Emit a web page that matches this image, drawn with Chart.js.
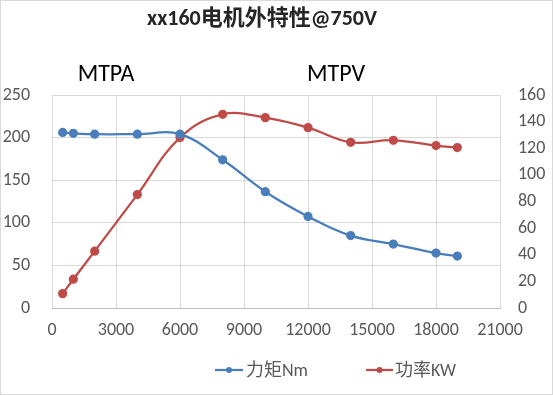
<!DOCTYPE html>
<html><head><meta charset="utf-8">
<script src="https://cdn.jsdelivr.net/npm/chart.js@4/dist/chart.umd.min.js"></script>
<style>html,body{margin:0;padding:0;background:#fff}#wrap{width:553px;height:395px;position:relative}</style>
</head><body><div id="wrap"><canvas id="c" width="553" height="395"></canvas></div>
<script>
const titleText = "xx160电机外特性@750V";
const regionLabels = ["MTPA", "MTPV"];
const seriesNames = ["力矩Nm", "功率KW"];
const speeds = [500, 1000, 2000, 4000, 6000, 8000, 10000, 12000, 14000, 16000, 18000, 19000];
const torque = [206, 205, 204, 204, 204, 174, 136.5, 107.5, 85, 75, 64.5, 61];
const power  = [10.8, 21.6, 42.7, 85.2, 128, 145.5, 143, 135.5, 124.5, 126, 122, 120.5];
const xTicks = [0, 3000, 6000, 9000, 12000, 15000, 18000, 21000];
const leftTicks = [0, 50, 100, 150, 200, 250];
const rightTicks = [0, 20, 40, 60, 80, 100, 120, 140, 160];

const BLUE = '#4a7ebb', RED = '#be4b48';
const FONT = 'Carlito, "Liberation Sans", "Noto Sans CJK SC", sans-serif';
const tickFont = {family: FONT, size: 18};

const deco = {
  id: 'deco',
  beforeDraw(chart) {
    const ctx = chart.ctx;
    ctx.save(); ctx.fillStyle = '#fff'; ctx.fillRect(0, 0, chart.width, chart.height); ctx.restore();
  },
  afterDraw(chart) {
    const ctx = chart.ctx;
    ctx.save();
    ctx.textBaseline = 'middle'; ctx.textAlign = 'center';
    ctx.fillStyle = '#262626';
    ctx.font = 'bold 22px ' + FONT;
    ctx.fillText(titleText, 262, 19);
    ctx.fillStyle = '#000';
    ctx.font = '24px ' + FONT;
    ctx.fillText(regionLabels[0], 106, 75);
    ctx.fillText(regionLabels[1], 336, 75);
    // legend
    const items = [[215, 243, 246, BLUE, seriesNames[0]], [366, 393, 395, RED, seriesNames[1]]];
    ctx.font = '18px ' + FONT; ctx.textAlign = 'left';
    items.forEach(([x0, x1, tx, col, name]) => {
      ctx.strokeStyle = col; ctx.lineWidth = 2.25;
      ctx.beginPath(); ctx.moveTo(x0, 370); ctx.lineTo(x1, 370); ctx.stroke();
      ctx.fillStyle = col; ctx.beginPath(); ctx.arc((x0 + x1) / 2, 370, 3, 0, Math.PI * 2); ctx.fill();
      ctx.fillStyle = '#595959'; ctx.fillText(name, tx, 371);
    });
    ctx.strokeStyle = '#d9d9d9'; ctx.lineWidth = 1;
    ctx.strokeRect(0.5, 0.5, chart.width - 1, chart.height - 1);
    ctx.restore();
  }
};

new Chart(document.getElementById('c'), {
  type: 'line',
  data: {
    datasets: [
      {label: seriesNames[0], data: speeds.map((s, i) => ({x: s, y: torque[i]})), yAxisID: 'y',
       borderColor: BLUE, backgroundColor: BLUE, borderWidth: 2.25, pointRadius: 3.5, tension: 0.4},
      {label: seriesNames[1], data: speeds.map((s, i) => ({x: s, y: power[i]})), yAxisID: 'y1',
       borderColor: RED, backgroundColor: RED, borderWidth: 2.25, pointRadius: 3.5, tension: 0.4}
    ]
  },
  options: {
    responsive: false, animation: false, devicePixelRatio: 1,
    layout: {padding: {top: 95, left: 0, right: 0, bottom: 0}},
    plugins: {legend: {display: false}, title: {display: false}, tooltip: {enabled: false}},
    scales: {
      x: {type: 'linear', min: 0, max: 21000,
        afterFit: s => { s.height = 87; },
        afterBuildTicks: s => { s.ticks = xTicks.map(v => ({value: v})); },
        grid: {color: '#d9d9d9', tickLength: 0, drawTicks: false},
        border: {display: true, color: '#bfbfbf'},
        ticks: {font: tickFont, color: '#595959', padding: 12, maxRotation: 0, autoSkip: false, callback: v => String(v)}},
      y: {position: 'left', min: 0, max: 250,
        afterFit: s => { s.width = 52; },
        afterBuildTicks: s => { s.ticks = leftTicks.map(v => ({value: v})); },
        grid: {color: '#d9d9d9', tickLength: 0, drawTicks: false},
        border: {display: false},
        ticks: {font: tickFont, color: '#595959', padding: 22}},
      y1: {position: 'right', min: 0, max: 160,
        afterFit: s => { s.width = 53; },
        afterBuildTicks: s => { s.ticks = rightTicks.map(v => ({value: v})); },
        grid: {display: false, drawTicks: false, tickLength: 0},
        border: {display: false},
        ticks: {font: tickFont, color: '#595959', padding: 18}}
    }
  },
  plugins: [deco]
});
</script></body></html>
